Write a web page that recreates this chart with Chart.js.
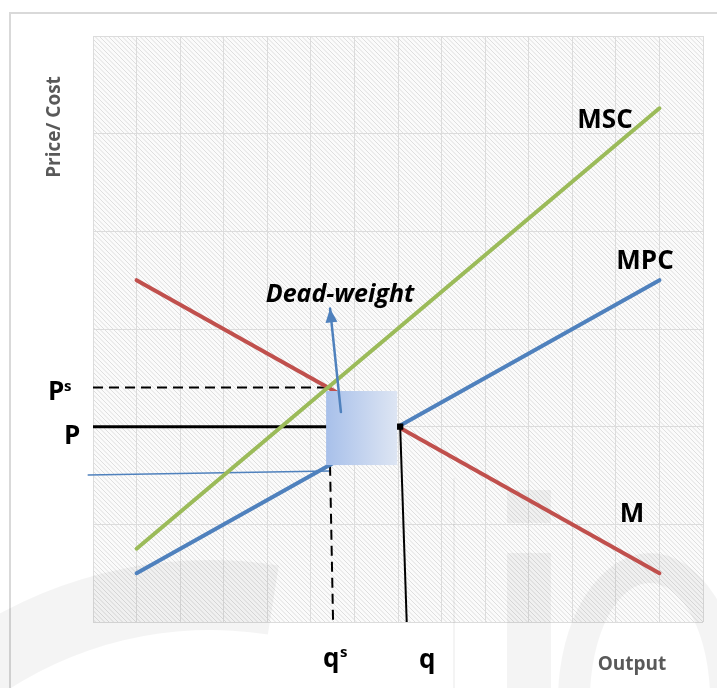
<!DOCTYPE html>
<html lang="en">
  <head>
    <meta charset="UTF-8" />
    <title>Subsidy dead-weight</title>
    <script src="https://cdn.jsdelivr.net/npm/chart.js"></script>
    <style>
      html, body { margin: 0; padding: 0; background: #ffffff; }
      canvas { display: block; }
    </style>
  </head>
  <body>
    <canvas id="econChart" width="717" height="688"></canvas>

    <script>
      // curve end points along the Output axis
      const outputX = [1, 13];
      const mscY = [0.75, 5.26];
      const mpcY = [0.5, 3.5];
      const mY = [3.5, 0.5];

      // price levels and quantities
      const psLevel = 2.4;
      const pLevel = 2.0;
      const qsX = [5.44, 5.51];
      const qX = [7.05, 7.2];
      const qsTopY = 1.6;
      const lowX = [-0.11, 5.44];
      const lowY = [1.505, 1.545];

      // dead-weight box and arrow
      const boxX = [5.35, 6.98];
      const boxY = [1.607, 2.365];
      const arrowX = [5.69, 5.44];
      const arrowY = [2.15, 3.21];

      const xMax = 14;
      const yMax = 6;

      const green = "#9BBB59";
      const blue = "#4F81BD";
      const red = "#C0504D";
      const font = "'Open Sans', 'DejaVu Sans', sans-serif";

      function pts(xs, ys) {
        return xs.map((x, i) => ({ x: x, y: ys[i] }));
      }

      // hatch pattern for the plot area
      function makeHatch(ctx) {
        const c = document.createElement("canvas");
        c.width = 9;
        c.height = 9;
        const g = c.getContext("2d");
        g.fillStyle = "#fbfbfb";
        g.fillRect(0, 0, 9, 9);
        g.strokeStyle = "#dedede";
        g.lineWidth = 1;
        g.beginPath();
        g.moveTo(-1, -1); g.lineTo(10, 10);
        g.moveTo(3.5, -1); g.lineTo(10, 5.5);
        g.moveTo(-1, 3.5); g.lineTo(5.5, 10);
        g.stroke();
        return ctx.createPattern(c, "repeat");
      }

      const backdrop = {
        id: "backdrop",
        beforeDraw(chart) {
          const ctx = chart.ctx;
          const a = chart.chartArea;
          ctx.save();
          ctx.fillStyle = "#ffffff";
          ctx.fillRect(0, 0, chart.width, chart.height);
          ctx.strokeStyle = "#d9d9d9";
          ctx.lineWidth = 2;
          ctx.strokeRect(10, 13, 900, 900);
          ctx.fillStyle = makeHatch(ctx);
          ctx.fillRect(a.left, a.top, a.right - a.left, a.bottom - a.top);
          ctx.restore();
        },
        beforeDatasetsDraw(chart) {
          // faint watermark
          const ctx = chart.ctx;
          ctx.save();
          ctx.fillStyle = "rgba(0,0,0,0.045)";
          ctx.beginPath();
          ctx.arc(210, 1000, 440, Math.PI, 1.55 * Math.PI);
          ctx.arc(210, 1000, 370, 1.55 * Math.PI, Math.PI, true);
          ctx.closePath();
          ctx.fill();
          ctx.fillRect(507, 490, 44, 33);
          ctx.fillRect(507, 553, 44, 135);
          ctx.beginPath();
          ctx.ellipse(650, 700, 92, 147, 0, 0, Math.PI * 2);
          ctx.ellipse(650, 700, 60, 117, 0, 0, Math.PI * 2, true);
          ctx.fill("evenodd");
          ctx.fillRect(453, 478, 2, 210);
          ctx.restore();
        },
        beforeDatasetDraw(chart, args) {
          if (chart.data.datasets[args.index].label !== "arrow") return;
          const ctx = chart.ctx;
          const xs = chart.scales.x;
          const ys = chart.scales.y;
          const x0 = xs.getPixelForValue(boxX[0]);
          const x1 = xs.getPixelForValue(boxX[1]);
          const y0 = ys.getPixelForValue(boxY[1]);
          const y1 = ys.getPixelForValue(boxY[0]);
          const grad = ctx.createLinearGradient(x0, 0, x1, 0);
          grad.addColorStop(0, "#a8c0ea");
          grad.addColorStop(1, "#dde5f3");
          ctx.save();
          ctx.fillStyle = grad;
          ctx.fillRect(x0, y0, x1 - x0, y1 - y0);
          ctx.restore();
        },
        afterDatasetsDraw(chart) {
          const ctx = chart.ctx;
          const xs = chart.scales.x;
          const ys = chart.scales.y;
          // arrow head
          const bx = xs.getPixelForValue(arrowX[0]);
          const by = ys.getPixelForValue(arrowY[0]);
          const tx = xs.getPixelForValue(arrowX[1]);
          const ty = ys.getPixelForValue(arrowY[1]);
          const ang = Math.atan2(ty - by, tx - bx);
          const len = 14, half = 6;
          ctx.save();
          ctx.fillStyle = blue;
          ctx.beginPath();
          ctx.moveTo(tx, ty);
          ctx.lineTo(tx - len * Math.cos(ang) + half * Math.sin(ang), ty - len * Math.sin(ang) - half * Math.cos(ang));
          ctx.lineTo(tx - len * Math.cos(ang) - half * Math.sin(ang), ty - len * Math.sin(ang) + half * Math.cos(ang));
          ctx.closePath();
          ctx.fill();

          // labels
          ctx.fillStyle = "#000000";
          ctx.textBaseline = "middle";
          ctx.textAlign = "center";
          ctx.font = "bold 26px " + font;
          ctx.fillText("MSC", 605, 121);
          ctx.fillText("MPC", 645, 262);
          ctx.fillText("M", 632, 515);
          ctx.font = "italic bold 25px " + font;
          ctx.fillText("Dead-weight", 340, 295);

          ctx.textAlign = "left";
          ctx.textBaseline = "alphabetic";
          ctx.font = "bold 26px " + font;
          ctx.fillText("P", 48, 400);
          ctx.fillText("P", 64, 444);
          ctx.fillText("q", 323, 667);
          ctx.fillText("q", 419, 668);
          ctx.font = "bold 15px " + font;
          ctx.fillText("s", 64, 391);
          ctx.fillText("s", 340, 657);

          ctx.fillStyle = "#595959";
          ctx.textAlign = "center";
          ctx.textBaseline = "middle";
          ctx.font = "bold 19px " + font;
          ctx.fillText("Output", 632, 665);
          ctx.translate(55, 127);
          ctx.rotate(-Math.PI / 2);
          ctx.font = "bold 19px " + font;
          ctx.fillText("Price/ Cost", 0, 0);
          ctx.restore();
        },
      };

      function line(label, data, color, width, extra) {
        return Object.assign(
          {
            label: label,
            data: data,
            showLine: true,
            borderColor: color,
            backgroundColor: color,
            borderWidth: width,
            pointRadius: 0,
            borderCapStyle: "round",
            fill: false,
            order: 1,
          },
          extra || {}
        );
      }

      const ctx = document.getElementById("econChart").getContext("2d");
      const chart = new Chart(ctx, {
        type: "scatter",
        data: {
          datasets: [
            line("MSC", pts(outputX, mscY), green, 4),
            line("MPC", pts(outputX, mpcY), blue, 4),
            line("M", pts(outputX, mY), red, 4),
            line("Ps", pts([0, qsX[1]], [psLevel, psLevel]), "#000000", 2, {
              borderDash: [10, 6],
              borderCapStyle: "butt",
            }),
            line("P", pts([0, qX[0]], [pLevel, pLevel]), "#000000", 3, {
              borderCapStyle: "butt",
            }),
            line("qs", pts(qsX, [qsTopY, 0]), "#000000", 2, {
              borderDash: [10, 6],
              borderCapStyle: "butt",
            }),
            line("q", pts(qX, [pLevel, 0]), "#000000", 2, {
              borderCapStyle: "butt",
              pointRadius: [3, 0],
              pointStyle: "rect",
              order: 0,
            }),
            line("low", pts(lowX, lowY), blue, 1.5, { clip: false }),
            line("arrow", pts(arrowX, arrowY), blue, 2.5, { order: 0 }),
          ],
        },
        options: {
          responsive: false,
          animation: false,
          layout: { padding: { left: 93, right: 14, top: 36, bottom: 66 } },
          plugins: {
            legend: { display: false },
            tooltip: { enabled: false },
          },
          scales: {
            x: {
              type: "linear",
              min: 0,
              max: xMax,
              ticks: { display: false, stepSize: 1 },
              grid: { color: "#dcdcdc", lineWidth: 1, drawTicks: false },
              border: { display: false },
            },
            y: {
              type: "linear",
              min: 0,
              max: yMax,
              ticks: { display: false, stepSize: 1 },
              grid: { color: "#dcdcdc", lineWidth: 1, drawTicks: false },
              border: { display: false },
            },
          },
        },
        plugins: [backdrop],
      });
    </script>
  </body>
</html>
